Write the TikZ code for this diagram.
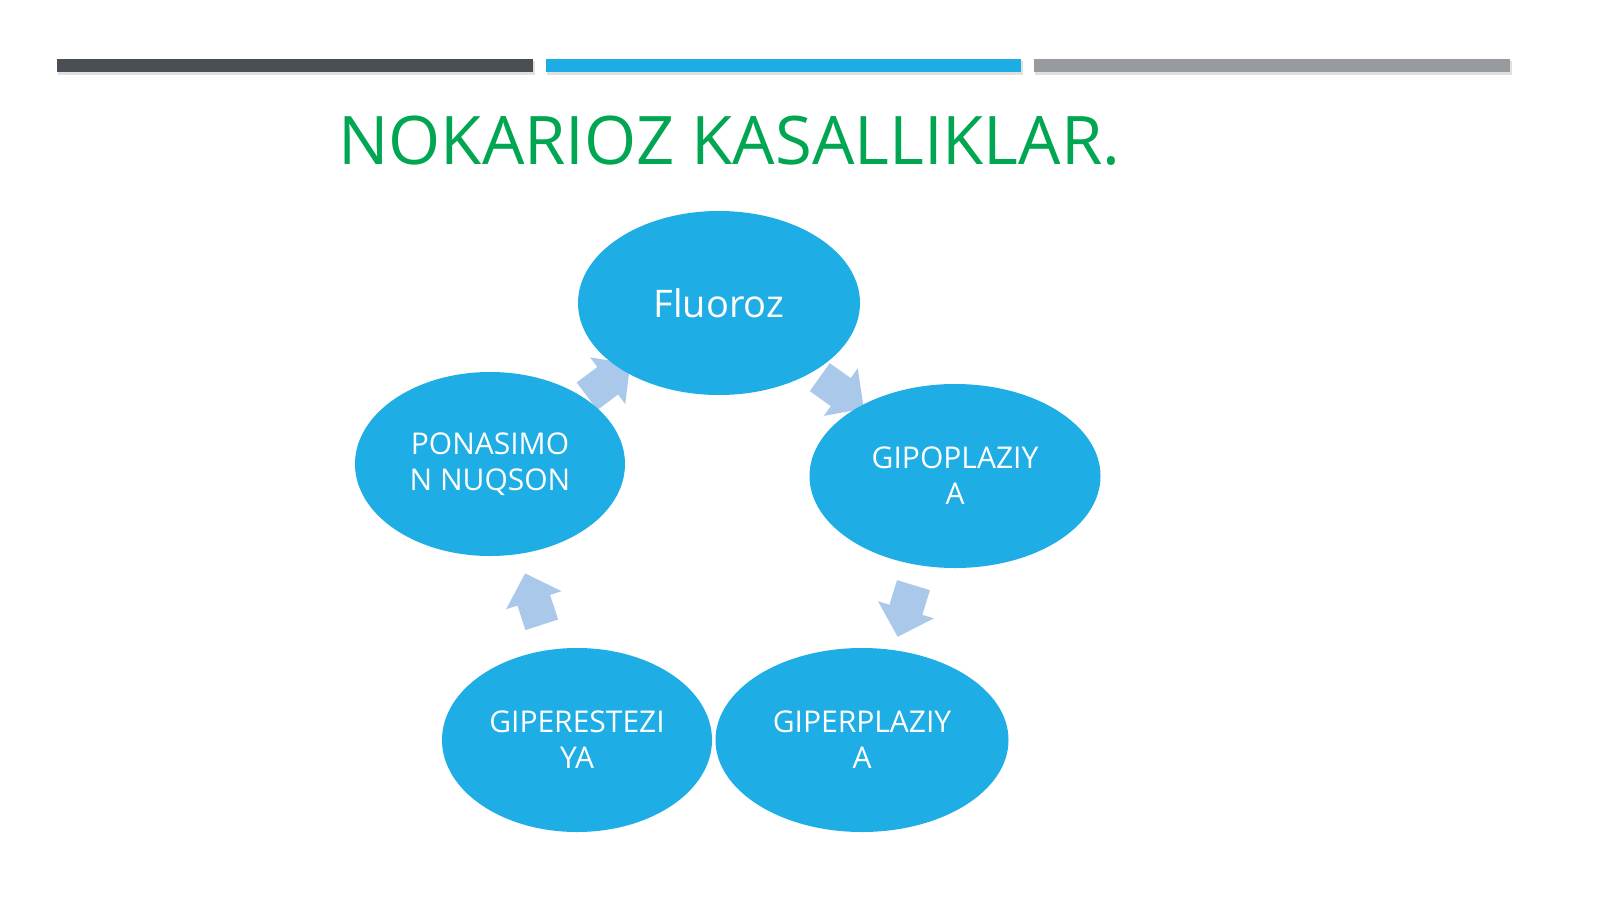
\documentclass[tikz,border=0pt]{standalone}
\usepackage{fontspec}
\setmainfont{Open Sans}
\usetikzlibrary{shapes.geometric,shapes.arrows}
\definecolor{darkbar}{RGB}{74,79,85}
\definecolor{bluebar}{RGB}{28,173,228}
\definecolor{graybar}{RGB}{151,155,160}
\definecolor{titlegreen}{RGB}{0,166,81}
\definecolor{nodeblue}{RGB}{30,173,228}
\definecolor{arrowblue}{RGB}{170,201,234}
\tikzset{
  cyc/.style={ellipse, fill=nodeblue, draw=none, inner sep=0pt, text=white,
    align=center, font=\fontsize{30}{36}\selectfont},
  cycarrow/.style={single arrow, fill=arrowblue, draw=none, inner sep=17pt,
    minimum height=54pt, single arrow head extend=12pt,
    single arrow tip angle=92},
}
\begin{document}
\begin{tikzpicture}[x=1pt,y=-1pt]
\useasboundingbox (0,0) rectangle (1600,899);
\fill[white] (0,0) rectangle (1600,899);
% bars with faint shadows
\fill[black!12] (58,61) rectangle (535,75);
\fill[black!12] (547,61) rectangle (1023,75);
\fill[black!12] (1035,61) rectangle (1512,75);
\fill[darkbar] (57,59) rectangle (533,72);
\fill[bluebar] (546,59) rectangle (1021,72);
\fill[graybar] (1034,59) rectangle (1510,72);
% title
\node[anchor=base west, inner sep=0pt, text=titlegreen,
  font=\fontsize{67}{80}\selectfont] (title) at (338,164) {NOKARIOZ KASALLIKLAR.};
% arrows
\node[cycarrow, rotate=-35.5] (a1) at (835,388) {};
\node[cycarrow, rotate=-107] (a2) at (908,603) {};
\node[cycarrow, rotate=108] (a4) at (536,607) {};
\node[cycarrow, rotate=37] (a5) at (602,385) {};
% ellipses
\node[cyc, minimum width=282pt, minimum height=184pt,
  font=\fontsize{38}{44}\selectfont] (fl) at (719,303) {Fluoroz};
\node[cyc, minimum width=291pt, minimum height=184pt] (gipo) at (955,476) {GIPOPLAZIY\\A};
\node[cyc, minimum width=270pt, minimum height=184pt] (pona) at (490,464) {PONASIMO\\N NUQSON};
\node[cyc, minimum width=270pt, minimum height=184pt] (gipe) at (577,740) {GIPERESTEZI\\YA};
\node[cyc, minimum width=293pt, minimum height=184pt] (gipr) at (862,740) {GIPERPLAZIY\\A};
\end{tikzpicture}
\end{document}
